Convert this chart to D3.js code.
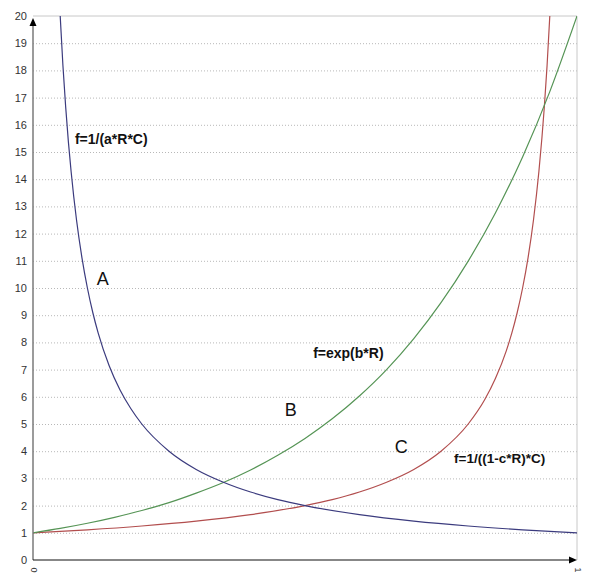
<!DOCTYPE html>
<html>
<head>
<meta charset="utf-8">
<script src="https://cdn.jsdelivr.net/npm/d3@7/dist/d3.min.js"></script>
<style>
  html, body { margin: 0; padding: 0; background: #fff; }
  svg { display: block; font-family: "Liberation Sans", Arial, sans-serif; }
</style>
</head>
<body>
<svg id="chart" width="600" height="579"></svg>
<script>
// ---- Data ----
const yTicks = [0,1,2,3,4,5,6,7,8,9,10,11,12,13,14,15,16,17,18,19,20];
const xTicks = [0, 1];

// Curve A : f=1/(a*R*C)
const aR = [0.05,0.055,0.06,0.065,0.07,0.08,0.09,0.10,0.11,0.12,0.14,0.16,0.18,0.20,0.25,0.30,0.35,0.40,0.45,0.50,0.60,0.70,0.80,0.90,1.00];
const aF = [20,18.18,16.67,15.38,14.29,12.5,11.11,10,9.09,8.33,7.14,6.25,5.56,5,4,3.33,2.86,2.5,2.22,2,1.67,1.43,1.25,1.11,1];

// Curve B : f=exp(b*R)
const bR = [0,0.05,0.10,0.15,0.20,0.25,0.30,0.35,0.40,0.45,0.50,0.55,0.60,0.65,0.70,0.75,0.80,0.85,0.90,0.95,1.00];
const bF = [1,1.16,1.35,1.57,1.82,2.11,2.46,2.85,3.31,3.85,4.47,5.19,6.03,7.0,8.14,9.46,10.99,12.76,14.82,17.22,20];

// Curve C : f=1/((1-c*R)*C)
const cR = [0,0.10,0.20,0.30,0.40,0.50,0.55,0.60,0.65,0.70,0.75,0.80,0.83,0.85,0.87,0.88,0.89,0.90,0.91,0.92,0.93,0.94,0.945,0.95];
const cF = [1,1.11,1.25,1.43,1.67,2,2.22,2.5,2.86,3.33,4,5,5.88,6.67,7.69,8.33,9.09,10,11.11,12.5,14.29,16.67,18.18,20];

const labels = [
  { text: "f=1/(a*R*C)",     R: 0.077, f: 15.3, size: 14, weight: "bold" },
  { text: "A",               R: 0.117, f: 10.1, size: 18, weight: "normal" },
  { text: "f=exp(b*R)",      R: 0.515, f: 7.43, size: 14, weight: "bold" },
  { text: "B",               R: 0.463, f: 5.28, size: 18, weight: "normal" },
  { text: "C",               R: 0.665, f: 3.93, size: 18, weight: "normal" },
  { text: "f=1/((1-c*R)*C)", R: 0.774, f: 3.55, size: 13.5, weight: "bold" }
];

const colors = { A: "#3b3b7e", B: "#559455", C: "#b24e4e" };

// ---- Layout ----
const svg = d3.select("#chart");
const mLeft = 33, mRight = 577, mTop = 16, mBottom = 560;

const x = d3.scaleLinear().domain([0, 1]).range([mLeft, mRight]);
const y = d3.scaleLinear().domain([0, 20]).range([mBottom, mTop]);

// grid lines
const grid = svg.append("g").attr("transform", `translate(${mLeft},0)`)
  .call(d3.axisLeft(y).tickValues(yTicks.filter(v => v > 0 && v < 20)).tickSize(-(mRight - mLeft)).tickFormat(""));
grid.select(".domain").remove();
grid.selectAll("line").attr("stroke", "#b8b8b8").attr("stroke-dasharray", "1,2");

// top & right frame
svg.append("line").attr("x1", x(0)).attr("x2", x(1)).attr("y1", y(20)).attr("y2", y(20))
  .attr("stroke", "#c8c8c8");
svg.append("line").attr("x1", x(1)).attr("x2", x(1)).attr("y1", y(20)).attr("y2", y(0))
  .attr("stroke", "#c8c8c8");

// y tick labels
const yAxis = svg.append("g").attr("transform", `translate(${mLeft},0)`)
  .call(d3.axisLeft(y).tickValues(yTicks).tickSize(0).tickPadding(6).tickFormat(d3.format("d")));
yAxis.select(".domain").remove();
yAxis.selectAll("text").attr("fill", "#333").style("font-size", "11px")
  .style("font-family", "'Liberation Sans', Arial, sans-serif");

// x tick labels
const xAxis = svg.append("g").attr("transform", `translate(0,${mBottom})`)
  .call(d3.axisBottom(x).tickValues(xTicks).tickSize(0).tickFormat(d3.format("d")));
xAxis.select(".domain").remove();
xAxis.selectAll("text")
  .attr("fill", "#333").style("font-size", "9px")
  .style("font-family", "'Liberation Sans', Arial, sans-serif")
  .attr("text-anchor", "middle")
  .attr("dy", null)
  .attr("y", 0)
  .attr("transform", "translate(0,10) rotate(90)")
  .attr("dominant-baseline", "central");

// curves
svg.append("clipPath").attr("id", "plotclip")
  .append("rect").attr("x", mLeft).attr("y", mTop).attr("width", mRight - mLeft).attr("height", mBottom - mTop);

const line = d3.line().x(d => x(d[0])).y(d => y(d[1])).curve(d3.curveMonotoneX);
const series = [
  { key: "C", R: cR, F: cF },
  { key: "B", R: bR, F: bF },
  { key: "A", R: aR, F: aF }
];
series.forEach(s => {
  svg.append("path")
    .datum(s.R.map((r, i) => [r, s.F[i]]))
    .attr("d", line)
    .attr("fill", "none")
    .attr("stroke", colors[s.key])
    .attr("stroke-width", 1.2)
    .attr("clip-path", "url(#plotclip)");
});

// axes lines with arrows
svg.append("line").attr("x1", x(0)).attr("x2", x(0)).attr("y1", y(0)).attr("y2", y(20) + 4)
  .attr("stroke", "#7a7a7a").attr("stroke-width", 1.5);
svg.append("line").attr("x1", x(0)).attr("x2", x(1) - 4).attr("y1", y(0)).attr("y2", y(0))
  .attr("stroke", "#111").attr("stroke-width", 1.2);
const tipY = y(20) + 2;
svg.append("path")
  .attr("d", `M${x(0)},${tipY} L${x(0) - 3.5},${tipY + 8} L${x(0) + 3.5},${tipY + 8} Z`)
  .attr("fill", "#000");
svg.append("path")
  .attr("d", `M${x(1)},${y(0)} L${x(1) - 8},${y(0) - 3.5} L${x(1) - 8},${y(0) + 3.5} Z`)
  .attr("fill", "#000");

// labels
svg.append("g").selectAll("text").data(labels).join("text")
  .attr("x", d => x(d.R)).attr("y", d => y(d.f))
  .attr("fill", "#111")
  .style("font-size", d => d.size + "px")
  .style("font-weight", d => d.weight)
  .text(d => d.text);
</script>
</body>
</html>
